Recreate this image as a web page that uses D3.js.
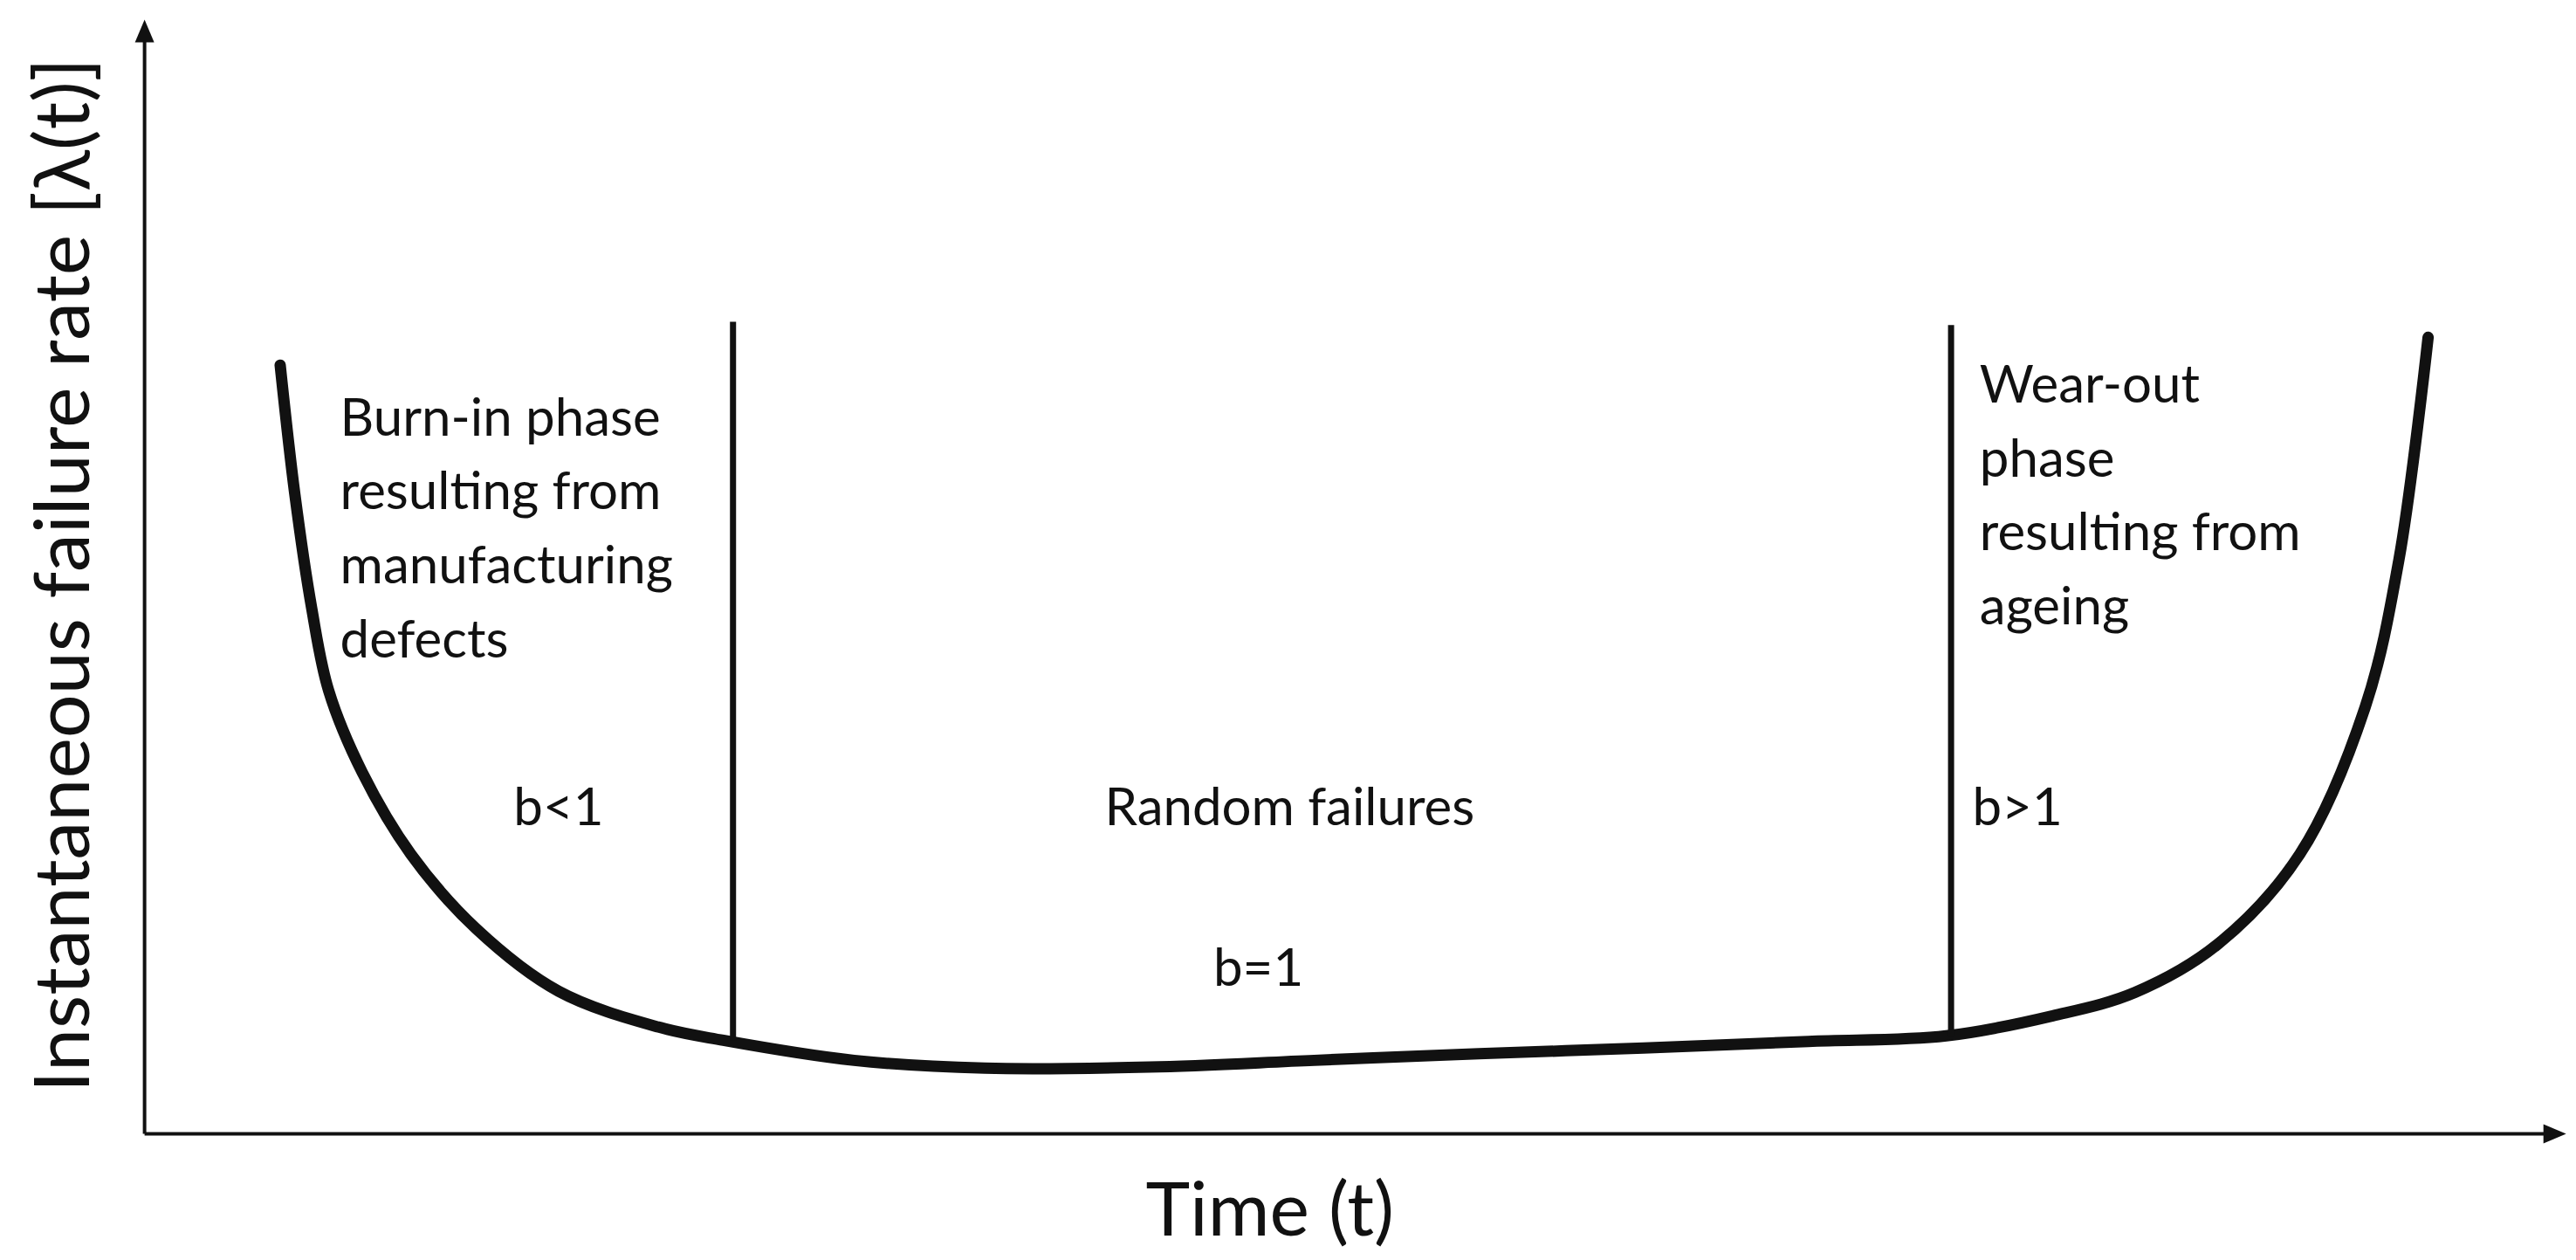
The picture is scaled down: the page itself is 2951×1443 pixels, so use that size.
<!DOCTYPE html>
<html><head><meta charset="utf-8">
<script src="https://cdn.jsdelivr.net/npm/d3@7"></script>
<style>body{margin:0;background:#fff}svg{display:block}text{font-family:Lato,"Open Sans",sans-serif;fill:#111}</style>
</head><body><svg id="c" width="2951" height="1443"></svg>
<script>
const timeVals=[5.6,6.2,6.9,7.6,9.0,11.0,13.7,17.1,21.2,23.9,29.3,34.7,41.5,48.3,55.1,61.9,68.7,74.4,78.8,82.2,85.6,89.0,91.7,93.1,94.3];
const rateVals=[69.0,57.5,47.2,39.8,32.4,25.1,18.4,12.8,9.6,8.4,6.6,5.9,6.0,6.6,7.2,7.7,8.3,8.8,10.6,12.7,17.0,25.1,38.3,51.6,71.5];
const phaseLines=[{t:24.3,from:8.4,to:72.9},{t:74.6,from:8.8,to:72.6}];
const xLabel="Time (t)", yLabel="Instantaneous failure rate  [λ(t)]";
const S=2951/1568;
const svg=d3.select("#c");
const x=d3.scaleLinear().domain([0,100]).range([88*S,1562*S]);
const y=d3.scaleLinear().domain([0,100]).range([690*S,12*S]);
const ax=svg.append("g").attr("stroke","#111").attr("stroke-width",4);
ax.append("line").attr("x1",x(0)).attr("y1",y(0)).attr("x2",x(100)-20).attr("y2",y(0));
ax.append("line").attr("x1",x(0)).attr("y1",y(0)).attr("x2",x(0)).attr("y2",y(100)+20);
svg.append("path").attr("d",`M${x(100)},${y(0)} l-26,-11 l0,22 z`).attr("fill","#111");
svg.append("path").attr("d",`M${x(0)},${y(100)} l-11,26 l22,0 z`).attr("fill","#111");
const pts=timeVals.map((t,i)=>[t,rateVals[i]]);
svg.append("path").datum(pts).attr("fill","none").attr("stroke","#111").attr("stroke-width",13).attr("stroke-linecap","round")
 .attr("d",d3.line().x(d=>x(d[0])).y(d=>y(d[1])).curve(d3.curveCatmullRom.alpha(0.5)));
svg.selectAll(".pl").data(phaseLines).join("line").attr("stroke","#111").attr("stroke-width",7)
 .attr("x1",d=>x(d.t)).attr("x2",d=>x(d.t)).attr("y1",d=>y(d.from)).attr("y2",d=>y(d.to));
const fs=60;
function txt(s,px,py,anchor){svg.append("text").attr("x",px*S).attr("y",py*S).attr("font-size",fs).attr("text-anchor",anchor||"start").text(s);}
["Burn-in phase","resulting from","manufacturing","defects"].forEach((s,i)=>txt(s,207,265+i*45));
["Wear-out","phase","resulting from","ageing"].forEach((s,i)=>txt(s,1205,245+i*45));
txt("b<1",340,502,"middle");txt("Random failures",785,502,"middle");txt("b=1",766,600,"middle");txt("b>1",1228,502,"middle");
svg.append("text").attr("x",773*S).attr("y",752*S).attr("font-size",86).attr("text-anchor","middle").text(xLabel);
svg.append("text").attr("transform",`translate(${54*S},${350*S}) rotate(-90)`).attr("font-size",88).attr("text-anchor","middle").text(yLabel);
</script></body></html>
